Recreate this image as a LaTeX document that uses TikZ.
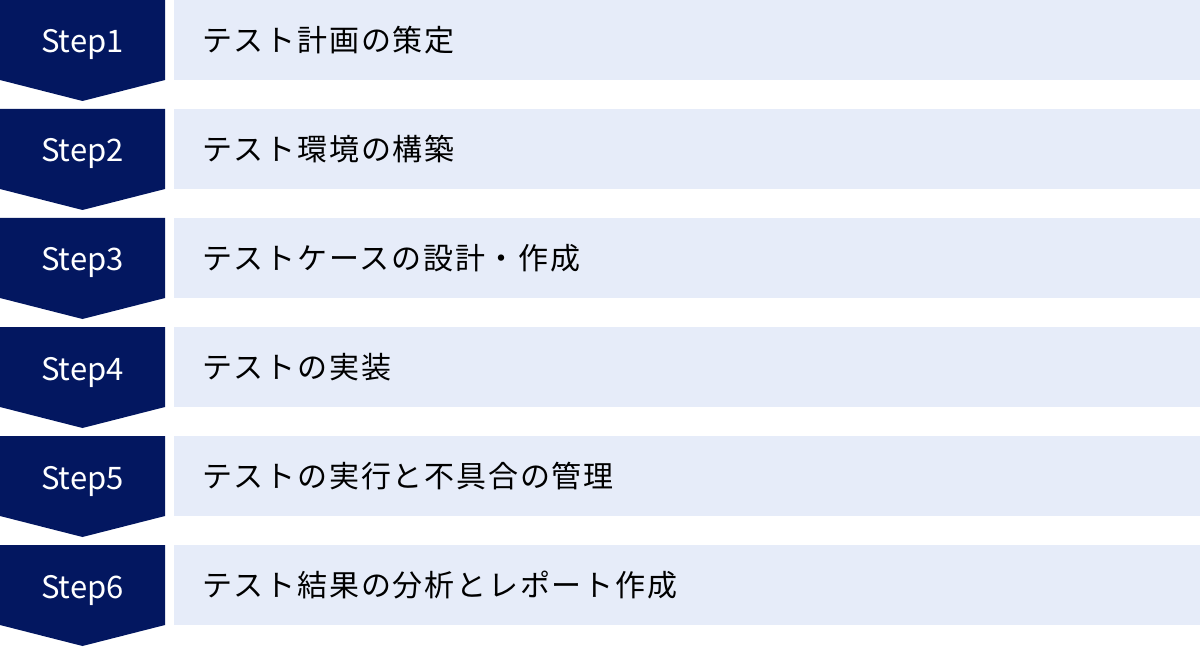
\documentclass[tikz,border=0pt]{standalone}
\usepackage{fontspec}
\usepackage{xcolor}
\usepackage{tikz}
\setmainfont{Noto Sans CJK JP}
\newfontfamily\jpfont[LetterSpace=6]{Noto Sans CJK JP}
\newfontfamily\stepfont{Noto Sans CJK JP}

\definecolor{stepnavy}{HTML}{031760}
\definecolor{rowblue}{HTML}{E6ECF9}

\tikzset{
	steptag/.style = {fill=stepnavy},
	stepname/.style = {anchor=base, text=white, font=\stepfont\fontsize{31}{31}\selectfont, inner sep=0pt},
	rowbar/.style = {fill=rowblue},
	rowtext/.style = {anchor=west, text=black, font=\jpfont\fontsize{30}{30}\selectfont, inner sep=0pt}
}

\begin{document}
\begin{tikzpicture}[x=1pt, y=-1pt]
			\useasboundingbox (0,0) rectangle (1200,647);

				% Step1
				\fill[steptag] (0,0) -- (165,0) -- (165,80) -- (82.5,101) -- (0,80) -- cycle;
				\fill[rowbar] (174,0) rectangle (1200,80);
				\node[stepname] (step1) at (82.5,53) {Step1};
				\node[rowtext] (task1) at (202,40) {テスト計画の策定};

				% Step2
				\fill[steptag] (0,109) -- (165,109) -- (165,189) -- (82.5,210) -- (0,189) -- cycle;
				\fill[rowbar] (174,109) rectangle (1200,189);
				\node[stepname] (step2) at (82.5,162) {Step2};
				\node[rowtext] (task2) at (202,149) {テスト環境の構築};

				% Step3
				\fill[steptag] (0,218) -- (165,218) -- (165,298) -- (82.5,319) -- (0,298) -- cycle;
				\fill[rowbar] (174,218) rectangle (1200,298);
				\node[stepname] (step3) at (82.5,271) {Step3};
				\node[rowtext] (task3) at (202,258) {テストケースの設計・作成};

				% Step4
				\fill[steptag] (0,327) -- (165,327) -- (165,407) -- (82.5,428) -- (0,407) -- cycle;
				\fill[rowbar] (174,327) rectangle (1200,407);
				\node[stepname] (step4) at (82.5,380) {Step4};
				\node[rowtext] (task4) at (202,367) {テストの実装};

				% Step5
				\fill[steptag] (0,436) -- (165,436) -- (165,516) -- (82.5,537) -- (0,516) -- cycle;
				\fill[rowbar] (174,436) rectangle (1200,516);
				\node[stepname] (step5) at (82.5,489) {Step5};
				\node[rowtext] (task5) at (202,476) {テストの実行と不具合の管理};

				% Step6
				\fill[steptag] (0,545) -- (165,545) -- (165,625) -- (82.5,646) -- (0,625) -- cycle;
				\fill[rowbar] (174,545) rectangle (1200,625);
				\node[stepname] (step6) at (82.5,598) {Step6};
				\node[rowtext] (task6) at (202,585) {テスト結果の分析とレポート作成};

		\end{tikzpicture}
\end{document}
